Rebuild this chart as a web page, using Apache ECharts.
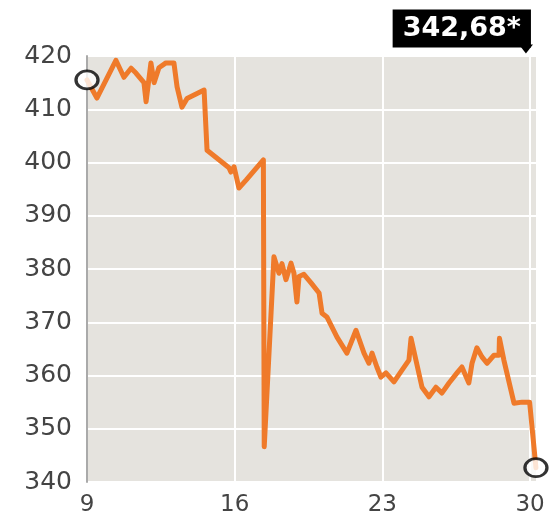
<!DOCTYPE html>
<html>
<head>
<meta charset="utf-8">
<script src="https://cdn.jsdelivr.net/npm/echarts@6/dist/echarts.min.js"></script>
<style>
html,body{margin:0;padding:0;background:#fff;}
#chart{width:556px;height:521px;}
</style>
</head>
<body>
<div id="chart"></div>
<script>
// Day of month (fractional, intraday) and index value
const days = [9.0, 9.47, 10.37, 10.75, 11.09, 11.32, 11.70, 11.80, 12.03, 12.18, 12.41, 12.74, 13.12, 13.27, 13.50, 13.74, 14.55, 14.69, 15.73, 15.82, 15.97, 16.20, 16.54, 17.36, 17.40, 17.86, 18.10, 18.24, 18.43, 18.67, 18.81, 18.95, 19.05, 19.28, 19.62, 20.00, 20.14, 20.37, 20.85, 21.32, 21.75, 22.13, 22.36, 22.51, 22.74, 22.93, 23.17, 23.55, 23.93, 24.26, 24.36, 24.59, 24.88, 25.21, 25.54, 25.82, 26.16, 26.54, 26.77, 27.10, 27.25, 27.48, 27.72, 27.96, 28.29, 28.53, 28.55, 28.76, 29.24, 29.62, 29.98, 30.28];
const values = [415.5, 412.1, 419.2, 416.0, 417.7, 416.8, 415.0, 411.4, 418.7, 415.0, 417.8, 418.7, 418.7, 414.2, 410.4, 412.0, 413.6, 402.3, 399.0, 398.2, 399.2, 395.2, 396.7, 400.5, 346.6, 382.3, 379.2, 381.0, 378.0, 381.1, 379.2, 373.8, 378.6, 379.0, 377.4, 375.5, 371.7, 371.0, 367.2, 364.2, 368.5, 364.2, 362.3, 364.2, 361.6, 359.7, 360.5, 358.8, 361.0, 362.9, 367.0, 362.9, 357.8, 356.0, 357.8, 356.7, 358.6, 360.5, 361.6, 358.6, 362.3, 365.2, 363.5, 362.3, 363.8, 363.8, 367.0, 362.9, 354.8, 355.0, 355.0, 342.68];
const xTickDays = [9, 16, 23, 30];
const yTicks = [340, 350, 360, 370, 380, 390, 400, 410, 420];
const lastLabel = '342,68*';

const startDay = xTickDays[0];
const step = xTickDays[1] - xTickDays[0];
const lineData = days.map((d, i) => [d - startDay, values[i]]);
const first = lineData[0];
const last = lineData[lineData.length - 1];

const chart = echarts.init(document.getElementById('chart'), null, {renderer: 'canvas'});
chart.setOption({
  animation: false,
  backgroundColor: '#ffffff',
  grid: {
    left: 87, right: 19, top: 56, bottom: 39,
    show: true, backgroundColor: '#e5e3de', borderWidth: 0
  },
  xAxis: {
    type: 'value',
    min: 0,
    max: 21.33,
    interval: step,
    axisLine: {show: false},
    axisTick: {show: false},
    splitLine: {show: true, lineStyle: {color: '#ffffff', width: 2}},
    axisLabel: {
      margin: 12,
      fontFamily: 'DejaVu Sans',
      fontSize: 23,
      color: '#444444',
      showMaxLabel: false,
      formatter: v => (Math.abs(v % step) < 1e-6 ? String(v + startDay) : '')
    }
  },
  yAxis: {
    type: 'value',
    min: yTicks[0],
    max: yTicks[yTicks.length - 1],
    interval: yTicks[1] - yTicks[0],
    axisLine: {show: true, lineStyle: {color: '#aaaaaa', width: 2}},
    axisTick: {show: false},
    splitLine: {show: true, lineStyle: {color: '#ffffff', width: 2}},
    axisLabel: {
      margin: 15,
      fontFamily: 'DejaVu Sans',
      fontSize: 25,
      color: '#444444'
    }
  },
  series: [
    {
      type: 'line',
      data: lineData,
      showSymbol: false,
      symbol: 'none',
      lineStyle: {color: '#ef7a2a', width: 5, join: 'round', cap: 'round'},
      z: 2,
      markPoint: {
        silent: true,
        symbol: 'triangle',
        symbolRotate: 180,
        symbolSize: [14, 9],
        symbolOffset: [-10, -7],
        itemStyle: {color: '#000000'},
        label: {
          show: true,
          position: 'top',
          distance: -4,
          align: 'right',
          offset: [5, -1],
          formatter: lastLabel,
          backgroundColor: '#000000',
          color: '#ffffff',
          fontFamily: 'DejaVu Sans',
          fontWeight: 'bold',
          fontSize: 27,
          lineHeight: 28,
          padding: [5, 10]
        },
        data: [{coord: [last[0], yTicks[yTicks.length - 1]]}]
      }
    },
    {
      type: 'scatter',
      data: [first, last],
      symbol: 'circle',
      symbolSize: [22, 18],
      itemStyle: {color: '#ffffff', borderColor: '#000000', borderWidth: 3},
      z: 5
    }
  ]
});
</script>
</body>
</html>
